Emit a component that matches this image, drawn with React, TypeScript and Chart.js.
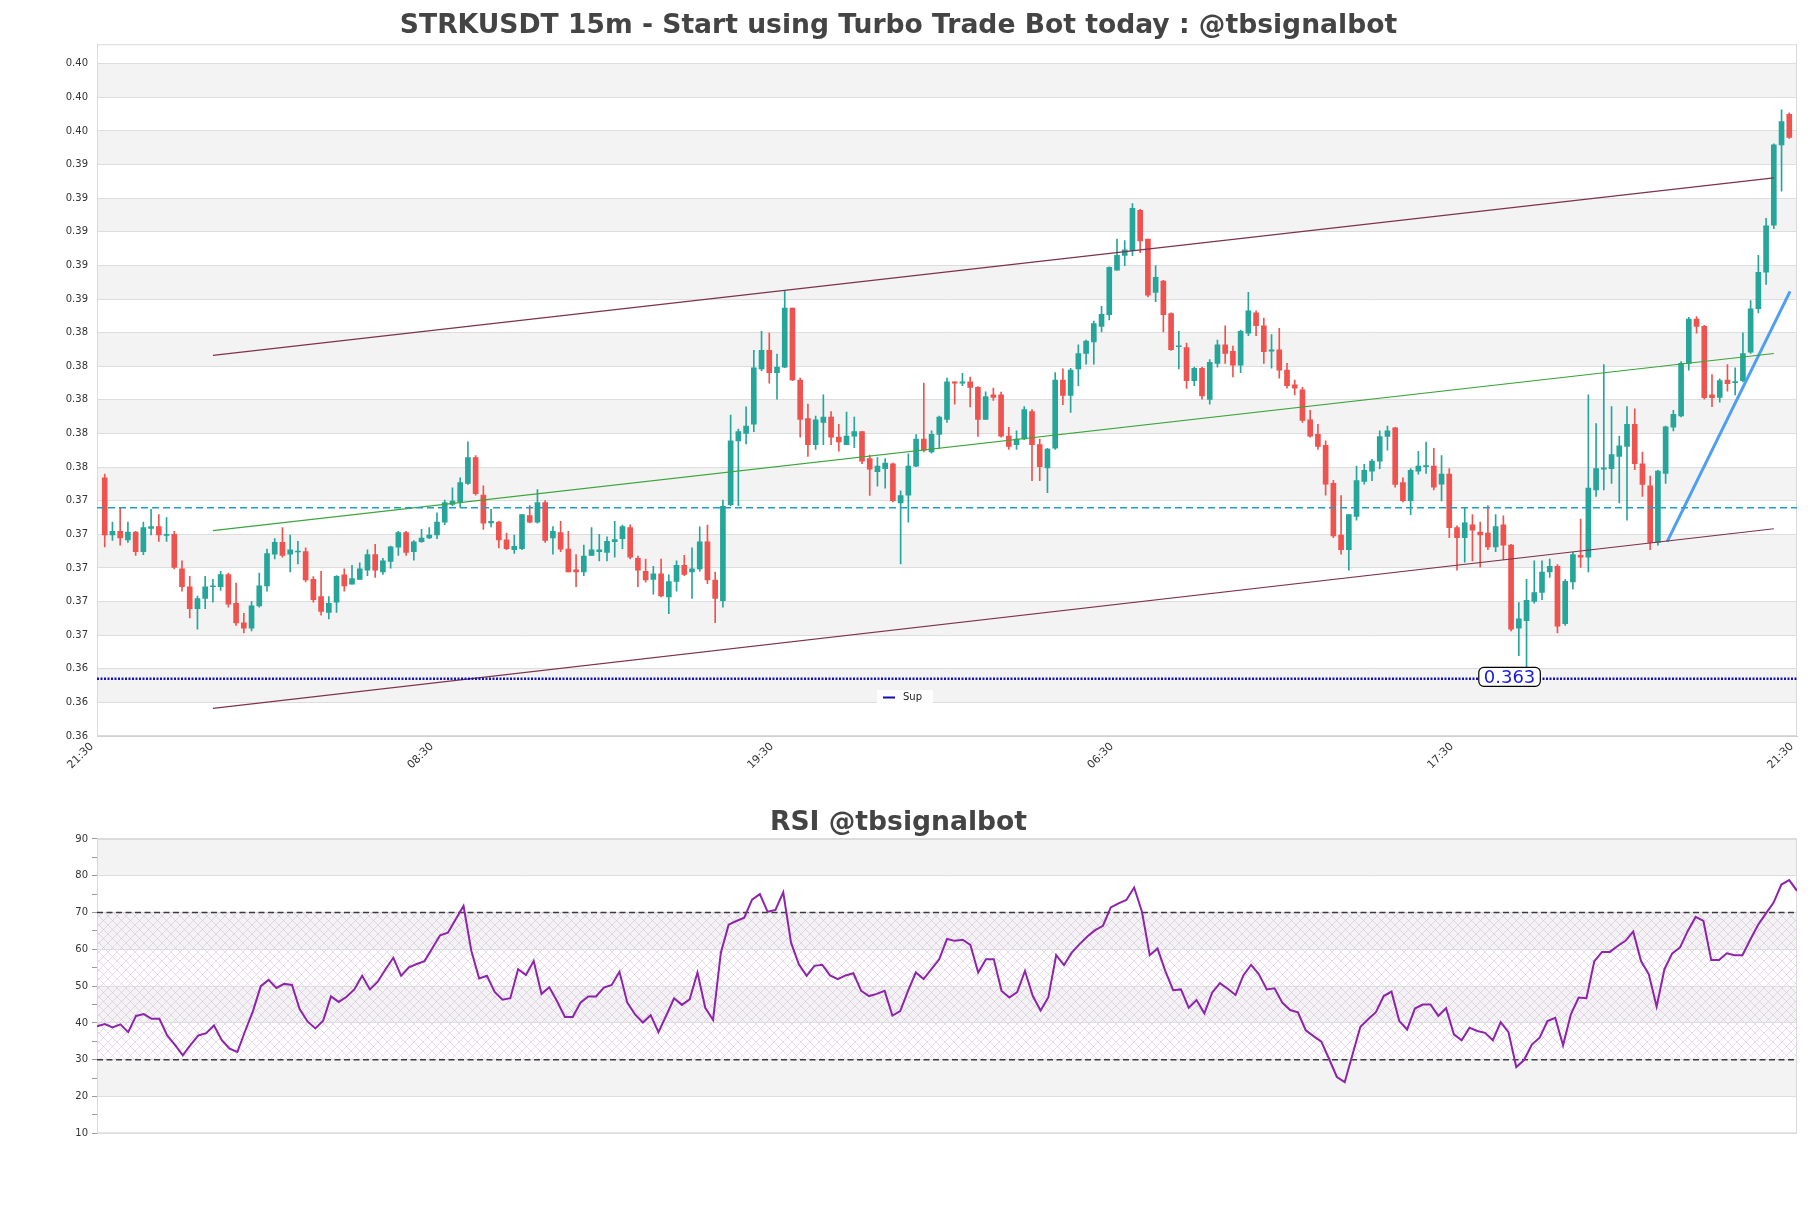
import React, { useEffect, useRef } from 'react';
import { Chart, registerables } from 'chart.js';

Chart.register(...registerables);

const mainTitle = 'STRKUSDT 15m - Start using Turbo Trade Bot today : @tbsignalbot';
const rsiTitle = 'RSI @tbsignalbot';
const xTickLabels = ['21:30', '08:30', '19:30', '06:30', '17:30', '21:30'];

const opens = [
0.37536,0.37196,0.37218,0.37167,0.37213,0.37097,0.37235,0.37246,0.37194,0.37200,
0.36994,0.36888,0.36757,0.36818,0.36888,0.36888,0.36961,0.36790,0.36673,0.36642,
0.36774,0.36893,0.37082,0.37152,0.37082,0.37095,0.37097,0.36932,0.36829,0.36735,
0.36796,0.36959,0.36904,0.36932,0.36987,0.37079,0.36976,0.37038,0.37123,0.37211,
0.37097,0.37156,0.37178,0.37196,0.37273,0.37378,0.37393,0.37503,0.37657,0.37433,
0.37268,0.37273,0.37167,0.37108,0.37115,0.37312,0.37273,0.37389,0.37178,0.37211,
0.37112,0.36989,0.36976,0.37075,0.37097,0.37093,0.37156,0.37174,0.37240,0.37057,
0.36980,0.36932,0.36965,0.36827,0.36919,0.37016,0.36976,0.36994,0.37156,0.36928,
0.36805,0.37376,0.37756,0.37800,0.37855,0.38184,0.38294,0.38162,0.38195,0.38546,
0.38118,0.37888,0.37734,0.37866,0.37898,0.37778,0.37734,0.37784,0.37811,0.37650,
0.37573,0.37591,0.37620,0.37387,0.37433,0.37606,0.37767,0.37690,0.37795,0.37883,
0.38107,0.38100,0.38107,0.38074,0.37883,0.38030,0.38030,0.37784,0.37734,0.37767,
0.37931,0.37734,0.37595,0.37712,0.38118,0.38026,0.38184,0.38276,0.38344,0.38437,
0.38507,0.38772,0.38860,0.38887,0.39128,0.38957,0.38639,0.38707,0.38513,0.38316,
0.38311,0.38114,0.38188,0.38002,0.38217,0.38327,0.38289,0.38206,0.38397,0.38518,
0.38441,0.38289,0.38298,0.38177,0.38090,0.38059,0.37881,0.37795,0.37729,0.37503,
0.37196,0.37108,0.37306,0.37514,0.37576,0.37635,0.37782,0.37833,0.37508,0.37400,
0.37576,0.37602,0.37606,0.37499,0.37558,0.37240,0.37180,0.37257,0.37213,0.37207,
0.37125,0.37257,0.37136,0.36642,0.36686,0.36800,0.36855,0.36976,0.37009,0.36669,
0.36917,0.37075,0.37064,0.37464,0.37587,0.37591,0.37664,0.37723,0.37855,0.37620,
0.37488,0.37152,0.37563,0.37837,0.37905,0.38217,0.38480,0.38437,0.38030,0.38015,
0.38118,0.38103,0.38114,0.38283,0.38542,0.38759,0.39040,0.39517,0.39699
];

const highs = [
0.37558,0.37273,0.37360,0.37273,0.37218,0.37273,0.37349,0.37317,0.37299,0.37218,
0.37042,0.36950,0.36833,0.36950,0.36932,0.36980,0.36969,0.36910,0.36730,0.36800,
0.36969,0.37112,0.37174,0.37240,0.37196,0.37158,0.37119,0.36948,0.36980,0.36829,
0.36954,0.36994,0.37016,0.37031,0.37108,0.37141,0.37057,0.37130,0.37218,0.37218,
0.37163,0.37229,0.37240,0.37328,0.37404,0.37477,0.37536,0.37751,0.37668,0.37488,
0.37349,0.37277,0.37207,0.37196,0.37317,0.37371,0.37466,0.37400,0.37246,0.37277,
0.37218,0.37079,0.37136,0.37240,0.37200,0.37185,0.37277,0.37255,0.37257,0.37070,
0.37053,0.37009,0.37053,0.36959,0.37042,0.37075,0.37119,0.37244,0.37255,0.36976,
0.37404,0.37909,0.37826,0.37958,0.38294,0.38408,0.38397,0.38272,0.38652,0.38546,
0.38129,0.37975,0.37903,0.38030,0.37931,0.37855,0.37927,0.37898,0.37811,0.37672,
0.37657,0.37650,0.37624,0.37459,0.37679,0.37793,0.38100,0.37815,0.37903,0.38129,
0.38107,0.38158,0.38136,0.38079,0.38048,0.38070,0.38046,0.37837,0.37815,0.37960,
0.37942,0.37767,0.37712,0.38162,0.38184,0.38188,0.38327,0.38355,0.38469,0.38557,
0.38792,0.38957,0.38948,0.39168,0.39133,0.38957,0.38799,0.38711,0.38518,0.38408,
0.38338,0.38195,0.38195,0.38239,0.38355,0.38441,0.38320,0.38415,0.38640,0.38529,
0.38487,0.38388,0.38426,0.38217,0.38118,0.38074,0.37938,0.37855,0.37756,0.37521,
0.37431,0.37317,0.37606,0.37617,0.37646,0.37815,0.37844,0.37837,0.37536,0.37591,
0.37694,0.37749,0.37712,0.37668,0.37591,0.37251,0.37356,0.37317,0.37273,0.37371,
0.37317,0.37310,0.37141,0.36794,0.36932,0.37042,0.37042,0.37053,0.37020,0.36932,
0.37093,0.37290,0.38030,0.37859,0.38210,0.37960,0.37784,0.37960,0.37947,0.37690,
0.37547,0.37580,0.37844,0.37938,0.38228,0.38491,0.38496,0.38443,0.38151,0.38125,
0.38210,0.38191,0.38399,0.38590,0.38860,0.39080,0.39524,0.39726,0.39708
];

const lows = [
0.37125,0.37163,0.37136,0.37152,0.37075,0.37079,0.37196,0.37158,0.37158,0.36994,
0.36862,0.36702,0.36636,0.36757,0.36796,0.36866,0.36767,0.36658,0.36614,0.36625,
0.36767,0.36862,0.37053,0.37064,0.36976,0.37024,0.36917,0.36796,0.36719,0.36697,
0.36735,0.36862,0.36904,0.36932,0.36954,0.36943,0.36961,0.36998,0.37075,0.37075,
0.37046,0.37152,0.37174,0.37174,0.37257,0.37371,0.37360,0.37497,0.37433,0.37229,
0.37244,0.37119,0.37108,0.37086,0.37108,0.37268,0.37266,0.37152,0.37082,0.37097,
0.36976,0.36888,0.36954,0.37075,0.37042,0.37042,0.37064,0.37115,0.37053,0.36888,
0.36915,0.36844,0.36827,0.36728,0.36862,0.36954,0.36818,0.36980,0.36906,0.36675,
0.36767,0.37371,0.37371,0.37738,0.37811,0.38173,0.38100,0.38004,0.38191,0.38114,
0.37778,0.37664,0.37705,0.37734,0.37734,0.37694,0.37734,0.37716,0.37620,0.37431,
0.37486,0.37475,0.37393,0.37024,0.37273,0.37602,0.37690,0.37683,0.37712,0.37866,
0.37975,0.38085,0.37958,0.37782,0.37883,0.37997,0.37778,0.37705,0.37705,0.37763,
0.37519,0.37519,0.37448,0.37705,0.37971,0.37925,0.38085,0.38213,0.38213,0.38404,
0.38476,0.38772,0.38799,0.38858,0.38876,0.38612,0.38584,0.38404,0.38294,0.38184,
0.38068,0.38085,0.38004,0.37975,0.38195,0.38217,0.38136,0.38162,0.38382,0.38382,
0.38217,0.38188,0.38129,0.38070,0.38030,0.37866,0.37778,0.37705,0.37433,0.37180,
0.37082,0.36987,0.37284,0.37499,0.37519,0.37591,0.37701,0.37481,0.37393,0.37317,
0.37558,0.37563,0.37464,0.37398,0.37180,0.36987,0.37035,0.37042,0.37005,0.37108,
0.37097,0.37049,0.36625,0.36478,0.36357,0.36790,0.36811,0.36943,0.36614,0.36658,
0.36873,0.37003,0.36976,0.37426,0.37464,0.37503,0.37387,0.37284,0.37584,0.37426,
0.37108,0.37136,0.37503,0.37815,0.37898,0.38177,0.38397,0.38004,0.37960,0.37986,
0.38052,0.38030,0.38107,0.38276,0.38518,0.38687,0.39018,0.39242,0.39556
];

const closes = [
0.37196,0.37218,0.37178,0.37213,0.37097,0.37240,0.37246,0.37196,0.37198,0.37003,
0.36888,0.36757,0.36818,0.36888,0.36893,0.36961,0.36785,0.36673,0.36642,0.36774,
0.36893,0.37086,0.37152,0.37075,0.37108,0.37099,0.36928,0.36811,0.36741,0.36790,
0.36950,0.36893,0.36937,0.36994,0.37079,0.36987,0.37042,0.37125,0.37211,0.37093,
0.37156,0.37178,0.37196,0.37273,0.37389,0.37398,0.37508,0.37657,0.37442,0.37266,
0.37277,0.37167,0.37115,0.37128,0.37317,0.37273,0.37389,0.37163,0.37218,0.37112,
0.36976,0.36976,0.37070,0.37108,0.37108,0.37158,0.37169,0.37246,0.37064,0.36987,
0.36928,0.36965,0.36833,0.36919,0.37016,0.36961,0.36994,0.37156,0.36928,0.36818,
0.37367,0.37756,0.37811,0.37844,0.38191,0.38294,0.38162,0.38195,0.38546,0.38118,
0.37883,0.37734,0.37881,0.37898,0.37778,0.37749,0.37784,0.37811,0.37635,0.37587,
0.37606,0.37624,0.37400,0.37431,0.37606,0.37767,0.37701,0.37795,0.37898,0.38107,
0.38100,0.38107,0.38074,0.37883,0.38019,0.38015,0.37784,0.37723,0.37767,0.37942,
0.37734,0.37602,0.37707,0.38118,0.38026,0.38177,0.38276,0.38349,0.38454,0.38509,
0.38788,0.38860,0.38893,0.39139,0.38946,0.38623,0.38729,0.38507,0.38298,0.38322,
0.38114,0.38188,0.38024,0.38223,0.38327,0.38276,0.38206,0.38408,0.38529,0.38441,
0.38287,0.38298,0.38177,0.38085,0.38070,0.37877,0.37784,0.37723,0.37499,0.37191,
0.37108,0.37317,0.37519,0.37580,0.37635,0.37782,0.37815,0.37497,0.37400,0.37580,
0.37606,0.37609,0.37481,0.37558,0.37240,0.37180,0.37268,0.37224,0.37196,0.37125,
0.37246,0.37136,0.36636,0.36697,0.36807,0.36854,0.36976,0.37009,0.36653,0.36921,
0.37079,0.37064,0.37475,0.37591,0.37595,0.37674,0.37727,0.37855,0.37620,0.37497,
0.37152,0.37576,0.37839,0.37914,0.38217,0.38480,0.38437,0.38013,0.38013,0.38114,
0.38096,0.38107,0.38276,0.38542,0.38759,0.39036,0.39517,0.39655,0.39561
];

const rsiValues = [
39.1,39.7,38.8,39.6,37.5,41.9,42.4,41.1,41.1,36.6,
34.0,31.2,34.0,36.6,37.2,39.3,35.3,33.0,32.1,37.8,
43.2,50.0,51.7,49.5,50.6,50.3,43.7,40.4,38.5,40.6,
47.2,45.7,47.1,49.1,52.8,49.1,51.2,54.6,57.7,52.8,
55.1,56.0,56.8,60.3,63.8,64.5,68.2,71.8,59.6,52.1,
52.8,48.4,46.3,46.7,54.6,53.0,56.8,47.9,49.7,45.9,
41.6,41.6,45.5,47.2,47.2,49.6,50.3,53.9,45.5,42.3,
40.1,42.1,37.5,42.0,46.7,44.9,46.4,53.7,44.1,40.8,
59.1,66.7,67.7,68.6,73.5,75.0,70.2,70.7,75.5,61.8,
55.9,52.8,55.5,55.8,52.9,51.9,52.9,53.5,48.7,47.3,
47.9,48.7,42.0,43.2,48.7,53.7,51.9,54.6,57.3,62.8,
62.3,62.6,61.2,53.7,57.3,57.3,48.7,46.9,48.4,54.1,
47.3,43.4,47.0,58.4,55.7,59.1,61.4,63.5,65.2,66.4,
71.4,72.5,73.4,76.8,70.2,58.4,60.2,54.1,48.9,49.1,
44.1,46.2,42.6,48.2,50.8,49.3,47.6,52.9,55.8,53.2,
49.1,49.4,45.5,43.5,42.9,38.0,36.4,34.9,30.2,25.3,
23.9,31.4,38.9,41.0,42.9,47.3,48.5,40.5,38.2,43.9,
45.0,45.0,41.9,44.0,36.9,35.3,38.7,37.8,37.3,35.3,
40.2,37.5,28.0,29.9,34.1,36.0,40.5,41.4,33.9,42.3,
46.9,46.7,56.7,59.3,59.3,60.9,62.3,64.8,56.8,53.2,
44.4,54.6,58.9,60.5,65.0,68.8,67.7,57.1,57.1,58.9,
58.4,58.4,62.6,66.6,69.7,72.7,77.6,78.8,75.9
];

const priceTicks = [0.360,0.362,0.364,0.366,0.368,0.370,0.372,0.374,0.376,0.378,0.380,0.382,0.384,0.386,0.388,0.390,0.392,0.394,0.396,0.398,0.400];
const priceMin = 0.360;
const priceMax = 0.40116;
const rsiTicks = [10,15,20,25,30,35,40,45,50,55,60,65,70,75,80,85,90];
const rsiBandsGray = [[20, 30], [40, 50], [60, 70], [80, 90]];
const rsiHatchZone = [30, 70];
const rsiLevels = [70, 30];

const supLevel = 0.3634;
const supLabel = '0.363';
const supLabelIndex = 181.8;
const dashedLevel = 0.37358;
const channelX = [14, 216];
const upperChannel = [0.38265, 0.39321];
const lowerChannel = [0.36164, 0.37233];
const middleChannel = [0.37222, 0.38276];
const trendX = [202.2, 218.1];
const trendY = [0.37156, 0.38645];

const UP = '#26a69a';
const DOWN = '#ef5350';
const FONT = "'DejaVu Sans', sans-serif";

function seg(xs: number[], ys: number[]) {
  return [{ x: xs[0], y: ys[0] }, { x: xs[1], y: ys[1] }];
}

function mainConfig(): any {
  const n = opens.length;
  const idx = opens.map((_, i) => i);
  const colors = idx.map((i) => (closes[i] >= opens[i] ? UP : DOWN));
  const xMin = -1;
  const xMax = n;
  const bandPairs: number[][] = [];
  for (let k = 1; k + 1 < priceTicks.length; k += 2) bandPairs.push([priceTicks[k], priceTicks[k + 1]]);

  const decor = {
    id: 'mainDecor',
    beforeDraw(chart: any) {
      const { ctx, chartArea: a, scales } = chart;
      const y = scales.y;
      ctx.save();
      ctx.fillStyle = '#ffffff';
      ctx.fillRect(0, 0, chart.width, chart.height);
      ctx.fillStyle = '#f3f3f3';
      bandPairs.forEach(([lo, hi]) => {
        const y0 = y.getPixelForValue(lo);
        const y1 = y.getPixelForValue(hi);
        ctx.fillRect(a.left, y1, a.right - a.left, y0 - y1);
      });
      ctx.restore();
    },
    beforeDatasetsDraw(chart: any) {
      const { ctx, chartArea: a } = chart;
      ctx.save();
      ctx.strokeStyle = '#dadada';
      ctx.lineWidth = 1;
      ctx.strokeRect(a.left + 0.5, a.top + 0.5, a.right - a.left - 1, a.bottom - a.top - 1);
      ctx.restore();
    },
    afterDraw(chart: any) {
      const { ctx, scales } = chart;
      const x = scales.x;
      const y = scales.y;
      ctx.save();
      ctx.fillStyle = 'rgba(255,255,255,0.9)';
      ctx.fillRect(877, 690, 56, 15);
      ctx.strokeStyle = '#1010b0';
      ctx.lineWidth = 2;
      ctx.beginPath();
      ctx.moveTo(883, 697.5);
      ctx.lineTo(895, 697.5);
      ctx.stroke();
      ctx.fillStyle = '#222';
      ctx.font = `10px ${FONT}`;
      ctx.textBaseline = 'middle';
      ctx.textAlign = 'left';
      ctx.fillText('Sup', 903, 697.5);
      const cx = x.getPixelForValue(supLabelIndex);
      const cy = y.getPixelForValue(supLevel) - 2;
      ctx.font = `18px ${FONT}`;
      const tw = ctx.measureText(supLabel).width;
      const w = tw + 10;
      const h = 19;
      const bx = cx - w / 2;
      const by = cy - h / 2;
      ctx.beginPath();
      (ctx as any).roundRect(bx, by, w, h, 5);
      ctx.fillStyle = '#ffffff';
      ctx.fill();
      ctx.strokeStyle = '#000';
      ctx.lineWidth = 1.2;
      ctx.stroke();
      ctx.fillStyle = '#1a1ae6';
      ctx.textAlign = 'center';
      ctx.textBaseline = 'middle';
      ctx.fillText(supLabel, cx, cy + 1);
      ctx.restore();
    },
  };

  return {
    type: 'bar',
    data: {
      datasets: [
        { type: 'line', label: 'Sup', data: seg([xMin, xMax], [supLevel, supLevel]), borderColor: '#1212b4', borderWidth: 2.5, borderDash: [2, 1.5], pointRadius: 0, order: 0 },
        { type: 'line', label: 'level', data: seg([xMin, xMax], [dashedLevel, dashedLevel]), borderColor: '#1f9fc4', borderWidth: 1.4, borderDash: [7, 4], pointRadius: 0, order: 0 },
        { type: 'line', label: 'upper', data: seg(channelX, upperChannel), borderColor: '#7d3349', borderWidth: 1.2, pointRadius: 0, order: 0 },
        { type: 'line', label: 'lower', data: seg(channelX, lowerChannel), borderColor: '#7d3349', borderWidth: 1.2, pointRadius: 0, order: 0 },
        { type: 'line', label: 'middle', data: seg(channelX, middleChannel), borderColor: '#3aa53a', borderWidth: 1.1, pointRadius: 0, order: 0 },
        { type: 'line', label: 'trend', data: seg(trendX, trendY), borderColor: '#4c9ff2', borderWidth: 3, pointRadius: 0, order: 0 },
        { type: 'bar', label: 'body', data: idx.map((i) => ({ x: i, y: [opens[i], closes[i]] })), backgroundColor: colors, borderWidth: 0, barThickness: 5, minBarLength: 1, grouped: false, order: 1 },
        { type: 'bar', label: 'wick', data: idx.map((i) => ({ x: i, y: [lows[i], highs[i]] })), backgroundColor: colors, borderWidth: 0, barThickness: 1, grouped: false, order: 2 },
      ],
    },
    options: {
      responsive: false,
      animation: false,
      events: [],
      layout: { padding: { left: 0, right: 14, top: 0, bottom: 0 } },
      plugins: {
        legend: { display: false },
        tooltip: { enabled: false },
        title: {
          display: true,
          text: mainTitle,
          color: '#444444',
          font: { family: FONT, size: 26.6, weight: 'bold' },
          padding: { top: 10.5, bottom: 1.8 },
        },
      },
      scales: {
        x: {
          type: 'linear',
          min: xMin,
          max: xMax,
          offset: false,
          grid: { display: false, offset: false },
          border: { display: true, color: '#d0d0d0' },
          afterBuildTicks: (s: any) => {
            s.ticks = xTickLabels.map((_, k) => ({ value: xMin + (k * (xMax - xMin)) / (xTickLabels.length - 1) }));
          },
          afterFit: (s: any) => { s.height = 54; },
          ticks: {
            autoSkip: false,
            minRotation: 45,
            maxRotation: 45,
            padding: -4,
            labelOffset: -5,
            color: '#333',
            font: { family: FONT, size: 11 },
            callback: (_v: any, i: number) => xTickLabels[i],
          },
        },
        y: {
          type: 'linear',
          min: priceMin,
          max: priceMax,
          beginAtZero: false,
          afterBuildTicks: (s: any) => { s.ticks = priceTicks.map((v) => ({ value: v })); },
          afterFit: (s: any) => { s.width = 97; },
          grid: { color: '#dddddd', drawTicks: false, lineWidth: 1 },
          border: { display: true, color: '#d0d0d0' },
          ticks: {
            padding: 9,
            color: '#333',
            font: { family: FONT, size: 10 },
            callback: (v: any) => Number(v).toFixed(2),
          },
        },
      },
    },
    plugins: [decor],
  };
}

function makeHatch(): CanvasPattern | string {
  const c = document.createElement('canvas');
  c.width = 9;
  c.height = 9;
  const g = c.getContext('2d');
  if (!g) return 'rgba(0,0,0,0)';
  g.strokeStyle = 'rgba(205,165,215,0.6)';
  g.lineWidth = 0.7;
  g.beginPath();
  g.moveTo(0, 0);
  g.lineTo(9, 9);
  g.moveTo(9, 0);
  g.lineTo(0, 9);
  g.stroke();
  return g.createPattern(c, 'repeat') || 'rgba(0,0,0,0)';
}

function rsiConfig(): any {
  const n = rsiValues.length;
  const xMin = 0;
  const xMax = n - 1;
  const hatch = makeHatch();
  const decor = {
    id: 'rsiDecor',
    beforeDraw(chart: any) {
      const { ctx, chartArea: a, scales } = chart;
      const y = scales.y;
      ctx.save();
      ctx.fillStyle = '#ffffff';
      ctx.fillRect(0, 0, chart.width, chart.height);
      ctx.fillStyle = '#f3f3f3';
      rsiBandsGray.forEach(([lo, hi]) => {
        const y0 = y.getPixelForValue(lo);
        const y1 = y.getPixelForValue(hi);
        ctx.fillRect(a.left, y1, a.right - a.left, y0 - y1);
      });
      const h0 = y.getPixelForValue(rsiHatchZone[0]);
      const h1 = y.getPixelForValue(rsiHatchZone[1]);
      ctx.fillStyle = hatch;
      ctx.fillRect(a.left, h1, a.right - a.left, h0 - h1);
      ctx.restore();
    },
    beforeDatasetsDraw(chart: any) {
      const { ctx, chartArea: a } = chart;
      ctx.save();
      ctx.strokeStyle = '#dadada';
      ctx.lineWidth = 1;
      ctx.strokeRect(a.left + 0.5, a.top + 0.5, a.right - a.left - 1, a.bottom - a.top - 1);
      ctx.restore();
    },
  };
  return {
    type: 'line',
    data: {
      datasets: [
        { label: 'RSI', data: rsiValues.map((v, i) => ({ x: i, y: v })), borderColor: '#8e24aa', borderWidth: 2, pointRadius: 0, tension: 0, order: 0 },
        ...rsiLevels.map((lv) => ({ label: 'lvl' + lv, data: seg([xMin, xMax], [lv, lv]), borderColor: '#3a3a3a', borderWidth: 1.4, borderDash: [6, 3.5], pointRadius: 0, order: 1 })),
      ],
    },
    options: {
      responsive: false,
      animation: false,
      events: [],
      layout: { padding: { left: 0, right: 14, top: 0, bottom: 74.7 } },
      plugins: {
        legend: { display: false },
        tooltip: { enabled: false },
        title: {
          display: true,
          text: rsiTitle,
          color: '#444444',
          font: { family: FONT, size: 26.6, weight: 'bold' },
          padding: { top: 17, bottom: 0 },
        },
      },
      scales: {
        x: { type: 'linear', min: xMin, max: xMax, display: false, offset: false },
        y: {
          type: 'linear',
          min: 10,
          max: 90,
          afterBuildTicks: (s: any) => { s.ticks = rsiTicks.map((v) => ({ value: v })); },
          afterFit: (s: any) => { s.width = 97; },
          grid: {
            color: (c: any) => (c.tick && c.tick.value % 10 === 0 ? '#dddddd' : 'rgba(0,0,0,0)'),
            tickColor: '#9a9a9a',
            tickLength: 5,
            drawTicks: true,
          },
          border: { display: true, color: '#d0d0d0' },
          ticks: {
            padding: 4,
            color: '#333',
            font: { family: FONT, size: 10 },
            callback: (v: any) => (Number(v) % 10 === 0 ? String(v) : ''),
          },
        },
      },
    },
    plugins: [decor],
  };
}

export default function App() {
  const mainRef = useRef<HTMLCanvasElement>(null);
  const rsiRef = useRef<HTMLCanvasElement>(null);
  useEffect(() => {
    Chart.defaults.font.family = FONT;
    const main = new Chart(mainRef.current as HTMLCanvasElement, mainConfig());
    const rsi = new Chart(rsiRef.current as HTMLCanvasElement, rsiConfig());
    return () => {
      main.destroy();
      rsi.destroy();
    };
  }, []);
  return (
    <div style={{ position: 'absolute', left: 0, top: 0, width: 1811, height: 1208, background: '#ffffff' }}>
      <canvas ref={mainRef} width={1811} height={790} style={{ position: 'absolute', left: 0, top: 0, width: 1811, height: 790 }} />
      <canvas ref={rsiRef} width={1811} height={418} style={{ position: 'absolute', left: 0, top: 790, width: 1811, height: 418 }} />
    </div>
  );
}
